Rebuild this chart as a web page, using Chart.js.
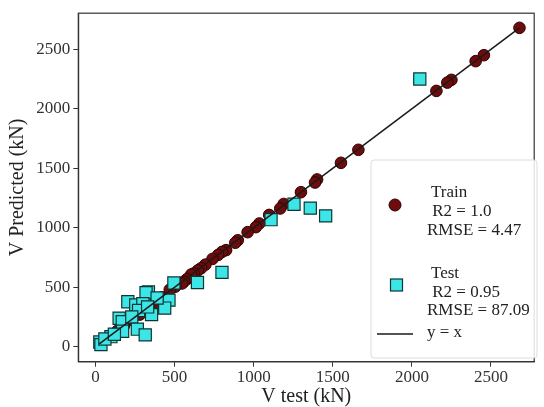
<!DOCTYPE html>
<html>
<head>
<meta charset="utf-8">
<script src="https://cdn.jsdelivr.net/npm/chart.js@4.4.1/dist/chart.umd.min.js"></script>
<style>
  html, body { margin: 0; padding: 0; background: #fff; }
  #chart { display: block; }
</style>
</head>
<body>
<canvas id="chart" width="544" height="407"></canvas>
<script>
// ---- data ----
const trainX = [2680, 2455, 2403, 2250, 2224, 2155, 1662, 1552, 1401, 1388, 1299, 1190, 1168, 1098, 1036, 1014, 962, 900, 884, 826, 800, 776, 740, 695, 668, 648, 622, 605, 580, 560, 548, 505, 470, 420, 380, 330, 280, 230, 180, 140, 95, 70, 40];
const trainY = [2680, 2450, 2400, 2243, 2220, 2150, 1655, 1546, 1406, 1380, 1299, 1200, 1162, 1108, 1036, 1005, 963, 895, 874, 812, 797, 772, 738, 690, 660, 642, 616, 607, 570, 548, 532, 505, 480, 415, 375, 335, 270, 225, 175, 135, 95, 70, 38];

const testX = [2050, 1255, 1358, 1455, 1110, 800, 645, 496, 465, 438, 335, 320, 355, 205, 255, 300, 273, 390, 150, 170, 230, 265, 315, 172, 98, 28, 35, 60, 330, 120];
const testY = [2250, 1198, 1165, 1100, 1068, 625, 540, 536, 392, 325, 460, 455, 270, 378, 352, 362, 305, 410, 240, 210, 250, 148, 100, 130, 85, 40, 18, 65, 335, 105];

// y = x reference line
const lineX = [25, 2680];
const lineY = [25, 2680];

const xTicks = [0, 500, 1000, 1500, 2000, 2500];
const yTicks = [0, 500, 1000, 1500, 2000, 2500];

const legendTrain = ["Train", " R2 = 1.0", "RMSE = 4.47"];
const legendTest = ["Test", " R2 = 0.95", "RMSE = 87.09"];
const legendLine = "y = x";

const FONT = "'Liberation Serif', 'Times New Roman', serif";
const TRAIN_FILL = "#6d0c0c";
const TRAIN_EDGE = "#300000";
const TEST_FILL = "#3de6e6";
const TEST_EDGE = "#0e3535";

const toPoints = (xs, ys) => xs.map((x, i) => ({ x: x, y: ys[i] }));

// frame round the plot area + legend box
const framePlugin = {
  id: "frame",
  afterDatasetsDraw(chart) {
    const { ctx, chartArea: a } = chart;
    ctx.save();
    ctx.strokeStyle = "#333";
    ctx.lineWidth = 1.2;
    ctx.strokeRect(a.left, a.top, a.right - a.left, a.bottom - a.top);

    // legend box
    const bx = 371, by = 160, bw = 166, bh = 198;
    ctx.beginPath();
    ctx.roundRect(bx, by, bw, bh, 3);
    ctx.fillStyle = "rgba(255,255,255,0.85)";
    ctx.fill();
    ctx.strokeStyle = "#dcdcdc";
    ctx.lineWidth = 1;
    ctx.stroke();

    // markers
    ctx.beginPath();
    ctx.arc(395, 205, 6, 0, Math.PI * 2);
    ctx.fillStyle = TRAIN_FILL;
    ctx.fill();
    ctx.strokeStyle = TRAIN_EDGE;
    ctx.stroke();

    ctx.fillStyle = TEST_FILL;
    ctx.fillRect(390.5, 279, 12, 12);
    ctx.strokeStyle = TEST_EDGE;
    ctx.lineWidth = 1.2;
    ctx.strokeRect(390.5, 279, 12, 12);

    ctx.beginPath();
    ctx.moveTo(377, 334);
    ctx.lineTo(413, 334);
    ctx.strokeStyle = "#1a1a1a";
    ctx.lineWidth = 1.5;
    ctx.stroke();

    // texts
    ctx.fillStyle = "#222";
    ctx.font = "17px " + FONT;
    ctx.textBaseline = "middle";
    ctx.textAlign = "left";
    const tx = [431, 428, 427];
    legendTrain.forEach((t, i) => ctx.fillText(t, tx[i], 193 + i * 18.7));
    legendTest.forEach((t, i) => ctx.fillText(t, tx[i], 274 + i * 18.3));
    ctx.fillText(legendLine, 427, 333);
    ctx.restore();
  },
};

const ctx = document.getElementById("chart").getContext("2d");
new Chart(ctx, {
  type: "scatter",
  data: {
    datasets: [
      {
        label: "y = x",
        data: toPoints(lineX, lineY),
        showLine: true,
        borderColor: "#1a1a1a",
        borderWidth: 1.5,
        pointRadius: 0,
        fill: false,
      },
      {
        label: "Test",
        data: toPoints(testX, testY),
        pointStyle: "rect",
        pointRadius: 8.6,
        backgroundColor: TEST_FILL,
        borderColor: TEST_EDGE,
        borderWidth: 1.2,
      },
      {
        label: "Train",
        data: toPoints(trainX, trainY),
        pointStyle: "circle",
        pointRadius: 5.8,
        backgroundColor: TRAIN_FILL,
        borderColor: TRAIN_EDGE,
        borderWidth: 1,
      },
    ],
  },
  options: {
    responsive: false,
    animation: false,
    devicePixelRatio: 1,
    layout: { padding: { top: 11.7, right: 3, left: 0, bottom: 0 } },
    plugins: {
      legend: { display: false },
      tooltip: { enabled: false },
    },
    scales: {
      x: {
        type: "linear",
        min: -108,
        max: 2773,
        afterFit: (s) => { s.height = 45.3; },
        afterBuildTicks: (s) => { s.ticks = xTicks.map((v) => ({ value: v })); },
        grid: { drawOnChartArea: false, drawTicks: true, tickLength: 5, color: "#333" },
        border: { display: true, color: "#333", width: 1.2 },
        ticks: {
          color: "#333",
          padding: 1,
          font: { family: FONT, size: 17 },
          callback: (v) => String(v),
        },
        title: {
          display: true,
          text: "V test (kN)",
          color: "#222",
          padding: { top: 0, bottom: 0 },
          font: { family: FONT, size: 20, lineHeight: 1 },
        },
      },
      y: {
        type: "linear",
        min: -125.5,
        max: 2803,
        afterFit: (s) => { s.width = 78.3; },
        afterBuildTicks: (s) => { s.ticks = yTicks.map((v) => ({ value: v })); },
        grid: { drawOnChartArea: false, drawTicks: true, tickLength: 5, color: "#333" },
        border: { display: true, color: "#333", width: 1.2 },
        ticks: {
          color: "#333",
          padding: 3,
          font: { family: FONT, size: 17 },
          callback: (v) => String(v),
        },
        title: {
          display: true,
          text: "V Predicted (kN)",
          color: "#222",
          padding: { top: 6, bottom: 0 },
          font: { family: FONT, size: 20, lineHeight: 1.2 },
        },
      },
    },
  },
  plugins: [framePlugin],
});
</script>
</body>
</html>
